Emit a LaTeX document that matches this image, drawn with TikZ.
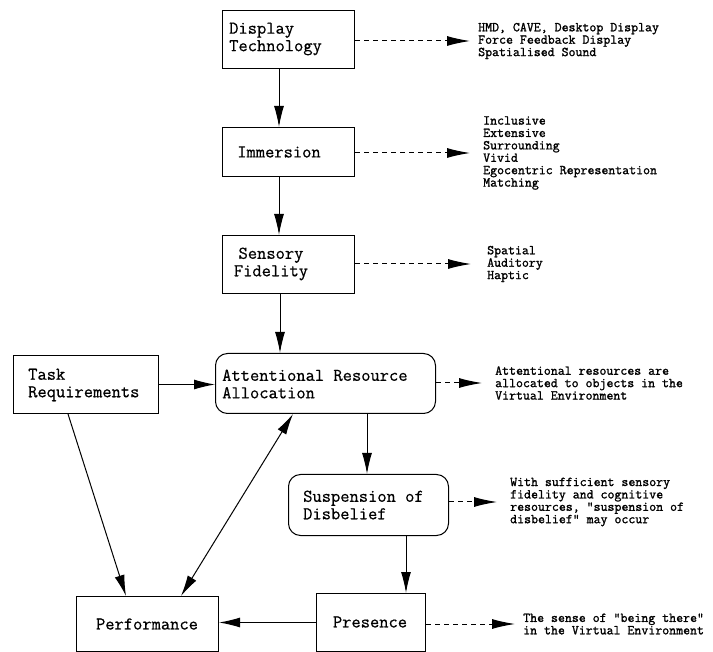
\documentclass[tikz,border=0pt]{standalone}
\usepackage{fontspec}
\usetikzlibrary{arrows.meta}
\newfontfamily\diagmono[FakeBold=0.6]{Latin Modern Mono}
\newfontfamily\notemono[FakeBold=1.4]{Latin Modern Mono}
\newcommand\boxfont{\diagmono\fontsize{18}{17.5}\selectfont}
\newcommand\notefont{\notemono\fontsize{13.5}{12.4}\selectfont}

\begin{document}
\begin{tikzpicture}[x=1pt,y=-1pt,
  box/.style={draw, line width=1pt, inner sep=0pt, anchor=north west},
  rbox/.style={box, rounded corners=12pt},
  lbl/.style={font=\boxfont, align=left, inner sep=0pt, anchor=west},
  clbl/.style={font=\boxfont, align=center, inner sep=0pt},
  note/.style={font=\notefont, align=left, inner sep=0pt, anchor=west},
  flow/.style={line width=1pt, -{Latex[length=21pt,width=10pt]}},
  hint/.style={line width=1pt, dash pattern=on 5pt off 4pt, -{Latex[length=23pt,width=10pt]}}]
\useasboundingbox (0,0) rectangle (713,652);

% main chain of boxes
\node[box, minimum width=132pt, minimum height=58pt] (dt) at (222,10) {};
\node[lbl] (dt-txt) at (229,39) {Display\\Technology};
\node[box, minimum width=132pt, minimum height=49pt] (imm) at (222,127) {};
\node[clbl] (imm-txt) at (279,152) {Immersion};
\node[box, minimum width=132pt, minimum height=58pt] (sf) at (222,235) {};
\node[clbl] (sf-txt) at (271,264) {Sensory\\Fidelity};
\node[rbox, minimum width=220pt, minimum height=60pt] (ara) at (215,353) {};
\node[lbl] (ara-txt) at (222,384) {Attentional Resource\\Allocation};
\node[box, minimum width=145pt, minimum height=58pt] (task) at (13,355) {};
\node[lbl] (task-txt) at (28,385) {Task\\Requirements};
\node[rbox, minimum width=160pt, minimum height=61pt] (sod) at (288,474) {};
\node[lbl] (sod-txt) at (303,505) {Suspension of\\Disbelief};
\node[box, minimum width=109pt, minimum height=58pt] (pres) at (316,593) {};
\node[clbl] (pres-txt) at (370,622) {Presence};
\node[box, minimum width=142pt, minimum height=55pt] (perf) at (76,596) {};
\node[clbl] (perf-txt) at (147,624) {Performance};

% side notes
\node[note] (dt-note) at (478,41) {HMD, CAVE, Desktop Display\\Force Feedback Display\\Spatialised Sound};
\node[note] (imm-note) at (483,153) {Inclusive\\Extensive\\Surrounding\\Vivid\\Egocentric Representation\\Matching};
\node[note] (sf-note) at (487,264) {Spatial\\Auditory\\Haptic};
\node[note] (ara-note) at (495,383) {Attentional resources are\\allocated to objects in the\\Virtual Environment};
\node[note] (sod-note) at (510,502) {With sufficient sensory\\fidelity and cognitive\\resources, "suspension of\\disbelief" may occur};
\node[note] (pres-note) at (523,624) {The sense of "being there"\\in the Virtual Environment};

% solid flow arrows
\draw[flow] ([xshift=57pt]dt.south west) -- ([xshift=57pt]imm.north west);
\draw[flow] ([xshift=57pt]imm.south west) -- ([xshift=57pt]sf.north west);
\draw[flow] ([xshift=58pt]sf.south west) -- ([xshift=65pt]ara.north west);
\draw[flow] (task.east) -- (task.east -| ara.west);
\draw[flow] ([xshift=152pt]ara.south west) -- ([xshift=79pt]sod.north west);
\draw[flow] ([xshift=118pt]sod.south west) -- ([xshift=90pt]pres.north west);
\draw[flow] (pres.west) -- (pres.west -| perf.east);
\draw[flow] ([xshift=55pt]task.south west) -- ([xshift=50pt]perf.north west);
\draw[flow, {Latex[length=21pt,width=10pt]}-{Latex[length=21pt,width=10pt]}] ([xshift=78pt]ara.south west) -- ([xshift=105pt]perf.north west);

% dashed pointers to the notes
\draw[hint] (dt.east |- dt-note.west) -- ([xshift=-8pt]dt-note.west);
\draw[hint] (imm.east |- imm-note.west) -- ([xshift=-13pt]imm-note.west);
\draw[hint] (sf.east |- sf-note.west) -- ([xshift=-16pt]sf-note.west);
\draw[hint] (ara.east |- ara-note.west) -- ([xshift=-13pt]ara-note.west);
\draw[hint] (sod.east |- sod-note.west) -- ([xshift=-13pt]sod-note.west);
\draw[hint] (pres.east |- pres-note.west) -- ([xshift=-8pt]pres-note.west);
\end{tikzpicture}
\end{document}
